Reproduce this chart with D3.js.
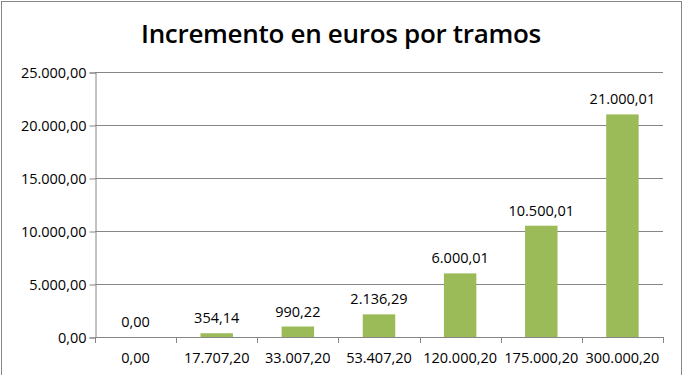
<!DOCTYPE html>
<html>
<head>
<meta charset="utf-8">
<script src="https://cdn.jsdelivr.net/npm/d3@7"></script>
<style>
  body { margin: 0; background: #fff; }
  svg text { font-family: "Open Sans", "Noto Sans", sans-serif; fill: #000; }
</style>
</head>
<body>
<div id="chart"></div>
<script>
// Data
var tramos = ["0,00", "17.707,20", "33.007,20", "53.407,20", "120.000,20", "175.000,20", "300.000,20"];
var incrementos = [0, 354.14, 990.22, 2136.29, 6000.01, 10500.01, 21000.01];
var yTicks = [0, 5000, 10000, 15000, 20000, 25000];

var width = 684, height = 375;
var margin = {top: 72, right: 21, bottom: 38, left: 95};

var fmt = d3.formatLocale({decimal: ",", thousands: ".", grouping: [3], currency: ["", "€"]}).format(",.2f");

var svg = d3.select("#chart").append("svg")
  .attr("width", width)
  .attr("height", height);

// outer frame
svg.append("rect")
  .attr("x", 1.5).attr("y", 1.5)
  .attr("width", width - 4).attr("height", height + 4)
  .attr("fill", "none").attr("stroke", "#868686");

svg.append("text")
  .attr("x", 341).attr("y", 43)
  .attr("text-anchor", "middle")
  .style("font-size", "26px")
  .style("font-weight", "600")
  .style("letter-spacing", "-0.3px")
  .text("Incremento en euros por tramos");

var x = d3.scaleBand()
  .domain(tramos)
  .range([margin.left, width - margin.right])
  .paddingInner(0.6).paddingOuter(0.3);

var y = d3.scaleLinear()
  .domain([0, 25000])
  .range([height - margin.bottom, margin.top]);

// gridlines
svg.append("g").selectAll("line")
  .data(yTicks.slice(1))
  .enter().append("line")
  .attr("x1", margin.left).attr("x2", width - margin.right)
  .attr("y1", function (d) { return Math.round(y(d)) + 0.5; })
  .attr("y2", function (d) { return Math.round(y(d)) + 0.5; })
  .attr("stroke", "#868686");

// y axis
var yAxis = svg.append("g")
  .attr("transform", "translate(" + (margin.left + 0.5) + ",0.5)")
  .call(d3.axisLeft(y).tickValues(yTicks).tickFormat(fmt).tickSizeOuter(0).tickSize(6).tickPadding(3));
yAxis.selectAll("line, path").attr("stroke", "#868686");
yAxis.selectAll("text")
  .attr("dy", "0.36em")
  .style("font-size", "14.5px")
  .style("font-family", "'Open Sans', sans-serif")
  .attr("fill", "#000");

// x axis, ticks between categories
var step = x.step();
var bounds = d3.range(tramos.length + 1).map(function (i) { return margin.left + i * step; });
var xg = svg.append("g");
xg.append("line")
  .attr("x1", margin.left).attr("x2", width - margin.right)
  .attr("y1", Math.round(y(0)) + 0.5).attr("y2", Math.round(y(0)) + 0.5)
  .attr("stroke", "#868686");
xg.selectAll(".tk").data(bounds).enter().append("line")
  .attr("x1", function (d) { return Math.round(d) + 0.5; })
  .attr("x2", function (d) { return Math.round(d) + 0.5; })
  .attr("y1", y(0)).attr("y2", y(0) + 6)
  .attr("stroke", "#868686");
xg.selectAll(".lbl").data(tramos).enter().append("text")
  .attr("x", function (d) { return x(d) + x.bandwidth() / 2; })
  .attr("y", y(0) + 26)
  .attr("text-anchor", "middle")
  .style("font-size", "14.5px")
  .text(function (d) { return d; });

// bars
svg.append("g").selectAll("rect")
  .data(incrementos)
  .enter().append("rect")
  .attr("x", function (d, i) { return x(tramos[i]); })
  .attr("width", x.bandwidth())
  .attr("y", function (d) { return y(d); })
  .attr("height", function (d) { return y(0) - y(d); })
  .attr("fill", "#9bbb59");

// value labels
svg.append("g").selectAll("text")
  .data(incrementos)
  .enter().append("text")
  .attr("x", function (d, i) { return x(tramos[i]) + x.bandwidth() / 2; })
  .attr("y", function (d) { return y(d) - 10; })
  .attr("text-anchor", "middle")
  .style("font-size", "14.5px")
  .text(function (d) { return fmt(d); });
</script>
</body>
</html>
